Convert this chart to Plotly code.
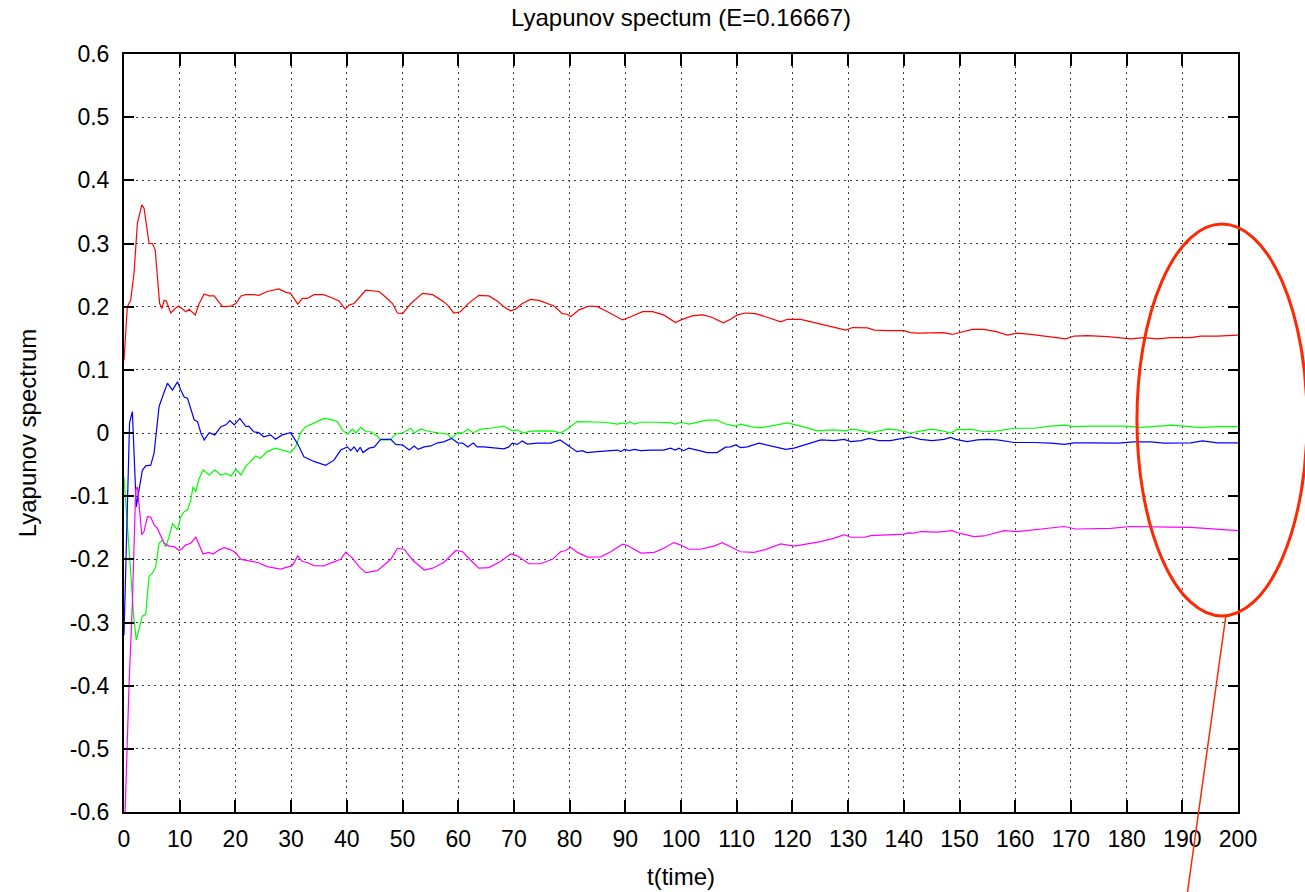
import plotly.graph_objects as go

# ---------------- data ----------------
red_t = [0.0, 0.6, 1.2, 1.8, 2.4, 3.2, 3.6, 4.0, 4.5, 5.1, 5.6, 6.0, 6.4, 6.8, 7.2, 7.6, 8.4, 9.2, 9.8, 10.4,
         11.1, 11.7, 12.8, 13.5, 14.4, 15.3, 16.2, 16.8, 17.7, 19.2, 20.1, 21.0, 21.8, 23.3, 24.2, 25.7, 27.8,
         29.0, 29.9, 31.2, 32.0, 32.9, 34.1, 35.8, 37.1, 38.6, 39.7, 40.4, 41.3, 43.4, 44.9, 45.8, 47.0, 48.2,
         49.1, 50.0, 51.5, 53.6, 55.4, 57.2, 58.1, 59.2, 60.4, 61.7, 63.7, 65.5, 67.0, 68.2, 69.4, 70.3, 71.5,
         73.0, 74.5, 76.0, 77.2, 78.7, 79.6, 80.2, 81.7, 83.5, 85.0, 86.8, 88.6, 89.5, 91.0, 93.1, 94.9, 96.9,
         99.0, 100.0, 102.0, 103.8, 105.3, 106.5, 107.6, 108.9, 110.1, 111.6, 113.4, 115.2, 117.9, 119.1, 121.5,
         124.5, 126.9, 129.6, 130.8, 133.5, 134.7, 137.1, 140.0, 141.2, 142.4, 144.8, 147.2, 148.7, 150.2, 152.3,
         154.4, 156.8, 158.6, 160.4, 162.8, 165.2, 167.3, 169.1, 170.6, 173.0, 176.6, 179.0, 180.7, 183.1, 185.5,
         187.9, 191.5, 193.3, 196.3, 200.0]
red_y = [0.115, 0.20, 0.21, 0.253, 0.332, 0.361, 0.356, 0.332, 0.30, 0.30, 0.29, 0.247, 0.205, 0.197, 0.21, 0.209,
         0.19, 0.197, 0.201, 0.197, 0.192, 0.196, 0.187, 0.205, 0.22, 0.217, 0.217, 0.21, 0.20, 0.201, 0.205, 0.217,
         0.219, 0.219, 0.218, 0.224, 0.228, 0.223, 0.221, 0.204, 0.213, 0.213, 0.219, 0.219, 0.215, 0.209, 0.196,
         0.2025, 0.205, 0.226, 0.225, 0.224, 0.215, 0.205, 0.19, 0.189, 0.205, 0.221, 0.219, 0.209, 0.2025, 0.19,
         0.192, 0.204, 0.218, 0.217, 0.209, 0.20, 0.1935, 0.196, 0.205, 0.2115, 0.21, 0.205, 0.201, 0.189, 0.188,
         0.184, 0.195, 0.201, 0.20, 0.192, 0.184, 0.179, 0.184, 0.192, 0.192, 0.187, 0.175, 0.179, 0.1855, 0.187,
         0.184, 0.179, 0.1745, 0.18, 0.187, 0.19, 0.189, 0.184, 0.176, 0.18, 0.18, 0.1735, 0.169, 0.163, 0.167,
         0.1665, 0.163, 0.162, 0.162, 0.159, 0.158, 0.159, 0.159, 0.156, 0.159, 0.164, 0.164, 0.16, 0.155, 0.158,
         0.156, 0.1535, 0.151, 0.149, 0.1535, 0.154, 0.1525, 0.151, 0.149, 0.151, 0.149, 0.151, 0.151, 0.1535,
         0.1535, 0.155]

green_t = [0.0, 0.9, 1.8, 2.2, 2.8, 3.3, 3.9, 4.5, 5.1, 5.7, 6.3, 6.9, 7.5, 8.1, 8.7, 9.3, 9.6, 10.2, 10.8, 11.4,
           12.0, 12.4, 12.9, 13.4, 14.2, 15.3, 16.3, 17.4, 18.3, 19.2, 20.1, 21.0, 21.9, 22.4, 23.6, 24.5, 25.7,
           27.2, 28.4, 29.9, 30.8, 31.7, 32.6, 33.5, 34.7, 35.9, 37.1, 38.3, 39.2, 40.1, 41.0, 41.6, 42.5, 43.4,
           44.3, 45.5, 46.1, 47.8, 48.8, 50.0, 51.5, 52.1, 53.2, 55.1, 56.9, 58.1, 58.8, 59.9, 60.8, 61.7, 62.7,
           64.0, 65.8, 68.2, 69.7, 70.6, 71.7, 73.0, 75.4, 77.2, 78.3, 79.6, 81.3, 83.2, 86.2, 88.6, 89.5, 90.1,
           90.8, 91.6, 92.8, 95.8, 98.2, 99.0, 100.0, 101.4, 102.9, 104.7, 106.5, 107.7, 108.9, 109.8, 110.7,
           112.5, 114.2, 116.4, 119.1, 121.5, 124.5, 127.5, 129.6, 130.5, 131.7, 134.1, 137.1, 138.8, 141.2,
           143.0, 145.1, 146.9, 148.4, 149.6, 150.8, 152.0, 154.4, 156.8, 159.8, 163.4, 166.4, 168.8, 170.6,
           173.6, 176.6, 179.6, 182.6, 185.5, 188.2, 190.3, 193.3, 196.3, 200.0]
green_y = [-0.07, -0.18, -0.296, -0.3275, -0.306, -0.29, -0.287, -0.227, -0.222, -0.2115, -0.1745, -0.169, -0.18,
           -0.164, -0.143, -0.151, -0.1535, -0.1325, -0.1245, -0.122, -0.106, -0.085, -0.093, -0.074, -0.0585,
           -0.0665, -0.0585, -0.0665, -0.064, -0.068, -0.0575, -0.0665, -0.052, -0.048, -0.0365, -0.04, -0.0295,
           -0.024, -0.027, -0.031, -0.022, 0.0, 0.01, 0.013, 0.018, 0.023, 0.0215, 0.018, 0.005, -0.002, 0.006,
           0.0, 0.009, 0.002, 0.002, -0.005, -0.011, -0.011, -0.0015, 0.0, 0.0075, 0.0, 0.006, 0.002, 0.0, -0.002,
           -0.0085, 0.0005, 0.0, 0.006, 0.0005, 0.006, 0.0075, 0.011, 0.0035, 0.005, 0.0, 0.003, 0.0035, 0.003,
           0.0, 0.006, 0.018, 0.018, 0.017, 0.014, 0.016, 0.014, 0.018, 0.014, 0.017, 0.017, 0.016, 0.014, 0.017,
           0.014, 0.017, 0.0205, 0.0205, 0.015, 0.0125, 0.011, 0.014, 0.01, 0.008, 0.0115, 0.016, 0.011, 0.0035,
           0.005, 0.0035, 0.006, 0.005, 0.0005, 0.006, 0.005, 0.0, 0.003, 0.006, 0.0035, 0.0, 0.006, 0.005, 0.006,
           0.002, 0.0035, 0.0075, 0.0075, 0.011, 0.0125, 0.01, 0.011, 0.0115, 0.011, 0.009, 0.011, 0.0125, 0.011,
           0.0085, 0.01, 0.01]

blue_t = [0.0, 1.0, 1.5, 1.8, 2.2, 2.7, 3.3, 3.9, 4.8, 5.4, 5.8, 6.3, 6.9, 7.8, 8.7, 9.6, 10.2, 10.8, 11.4, 12.0,
          12.6, 13.2, 13.8, 14.4, 15.3, 16.3, 17.4, 18.3, 19.0, 19.8, 20.8, 21.9, 22.4, 23.3, 24.2, 25.1, 26.3,
          27.2, 28.4, 29.9, 31.1, 32.3, 34.1, 36.2, 37.7, 38.9, 39.5, 40.1, 40.7, 41.3, 41.9, 42.4, 42.9, 44.0,
          44.9, 46.1, 47.9, 48.8, 50.0, 51.2, 52.1, 52.8, 53.9, 55.1, 56.3, 57.4, 58.8, 59.9, 60.8, 61.7, 62.7,
          63.4, 64.6, 66.4, 68.2, 69.1, 69.7, 70.6, 71.5, 72.4, 74.2, 76.6, 78.3, 79.6, 81.3, 82.3, 83.1, 85.0,
          86.8, 88.6, 89.2, 89.8, 90.7, 91.6, 92.8, 94.6, 96.9, 98.1, 99.0, 99.6, 100.5, 101.4, 102.9, 104.7,
          106.5, 108.0, 108.9, 109.8, 110.7, 111.9, 114.0, 115.5, 117.3, 118.8, 120.3, 122.7, 125.1, 127.5,
          129.3, 130.5, 132.3, 133.8, 135.5, 137.6, 138.8, 140.0, 141.2, 143.0, 145.1, 147.2, 148.4, 149.3,
          150.2, 151.4, 153.2, 155.0, 156.8, 159.8, 163.4, 166.4, 168.8, 170.6, 173.6, 176.6, 178.4, 181.3,
          184.3, 186.7, 189.1, 191.5, 193.6, 196.3, 200.0]
blue_y = [-0.32, 0.016, 0.034, -0.022, -0.117, -0.09, -0.059, -0.052, -0.051, -0.032, 0.0, 0.042, 0.057, 0.079,
          0.068, 0.081, 0.068, 0.057, 0.055, 0.036, 0.021, 0.018, 0.0, -0.011, 0.0005, -0.003, 0.01, 0.013, 0.0195,
          0.013, 0.023, 0.01, 0.011, 0.002, 0.0005, -0.006, -0.003, -0.01, -0.003, 0.0005, -0.016, -0.0375, -0.045,
          -0.051, -0.043, -0.027, -0.024, -0.022, -0.028, -0.022, -0.0295, -0.0225, -0.031, -0.024, -0.0225,
          -0.01, -0.01, -0.018, -0.019, -0.027, -0.0205, -0.026, -0.022, -0.0205, -0.0155, -0.014, -0.0085,
          -0.0155, -0.016, -0.022, -0.016, -0.022, -0.022, -0.023, -0.025, -0.022, -0.016, -0.018, -0.0125,
          -0.0175, -0.016, -0.016, -0.011, -0.019, -0.0295, -0.028, -0.031, -0.0295, -0.028, -0.027, -0.0295,
          -0.026, -0.028, -0.026, -0.028, -0.027, -0.027, -0.024, -0.027, -0.024, -0.028, -0.024, -0.027, -0.031,
          -0.031, -0.0225, -0.022, -0.019, -0.023, -0.022, -0.016, -0.019, -0.022, -0.026, -0.024, -0.0175,
          -0.011, -0.012, -0.01, -0.0135, -0.012, -0.0085, -0.012, -0.012, -0.01, -0.007, -0.006, -0.01, -0.012,
          -0.01, -0.007, -0.01, -0.011, -0.0135, -0.011, -0.01, -0.011, -0.015, -0.015, -0.016, -0.018, -0.0155,
          -0.0155, -0.0155, -0.016, -0.014, -0.014, -0.016, -0.016, -0.0155, -0.0125, -0.0155, -0.0155]

magenta_t = [0.2, 0.9, 1.5, 2.1, 2.4, 2.8, 3.2, 3.6, 4.2, 4.8, 5.4, 6.0, 6.6, 7.2, 8.1, 9.0, 9.9, 10.5, 11.1,
             12.0, 12.9, 13.5, 14.2, 15.2, 16.0, 17.1, 18.0, 19.2, 20.1, 21.0, 21.7, 24.0, 25.7, 28.1, 30.2,
             31.2, 32.0, 32.9, 34.1, 35.9, 37.1, 38.9, 39.8, 41.0, 42.2, 43.4, 45.5, 47.0, 47.9, 49.1, 50.3,
             51.8, 53.9, 55.4, 57.4, 59.6, 60.8, 62.2, 63.7, 65.5, 67.6, 69.4, 70.6, 72.7, 74.8, 76.9, 78.4,
             79.3, 80.2, 81.4, 83.2, 85.6, 87.4, 89.5, 90.4, 92.8, 95.2, 96.9, 98.7, 99.9, 101.4, 103.5, 105.9,
             107.4, 108.6, 110.7, 113.1, 115.0, 117.9, 120.3, 122.7, 125.1, 127.5, 129.3, 130.5, 132.9, 134.1,
             137.6, 140.0, 140.9, 141.8, 143.0, 146.0, 148.7, 149.6, 151.1, 152.6, 154.4, 156.2, 158.0, 160.4,
             162.8, 165.2, 167.0, 168.8, 170.9, 173.6, 177.2, 180.7, 184.3, 187.9, 191.5, 196.3, 200.0]
magenta_y = [-0.6, -0.401, -0.27, -0.09, -0.085, -0.122, -0.161, -0.156, -0.1325, -0.133, -0.1455, -0.151, -0.164,
             -0.1745, -0.179, -0.18, -0.186, -0.1825, -0.177, -0.1745, -0.165, -0.177, -0.1915, -0.189, -0.1915,
             -0.185, -0.1815, -0.185, -0.19, -0.2, -0.201, -0.205, -0.2115, -0.2155, -0.21, -0.1945, -0.2035,
             -0.205, -0.21, -0.2105, -0.206, -0.2, -0.1885, -0.198, -0.2115, -0.221, -0.218, -0.206, -0.2,
             -0.1825, -0.184, -0.201, -0.217, -0.214, -0.205, -0.186, -0.188, -0.201, -0.214, -0.213, -0.2035,
             -0.1915, -0.1945, -0.207, -0.207, -0.2, -0.188, -0.186, -0.181, -0.189, -0.1965, -0.196, -0.188,
             -0.176, -0.178, -0.19, -0.189, -0.1825, -0.1735, -0.177, -0.184, -0.184, -0.179, -0.1735, -0.179,
             -0.188, -0.189, -0.185, -0.1755, -0.179, -0.1755, -0.172, -0.1665, -0.161, -0.165, -0.165, -0.1625,
             -0.161, -0.16, -0.158, -0.1585, -0.156, -0.157, -0.1545, -0.158, -0.161, -0.164, -0.163, -0.1585,
             -0.1545, -0.156, -0.1535, -0.151, -0.149, -0.148, -0.152, -0.152, -0.151, -0.148, -0.149, -0.149,
             -0.1495, -0.152, -0.1545]

x_ticks = list(range(0, 201, 10))
x_tick_text = [str(v) for v in x_ticks]
y_ticks = [-0.6, -0.5, -0.4, -0.3, -0.2, -0.1, 0.0, 0.1, 0.2, 0.3, 0.4, 0.5, 0.6]
y_tick_text = ["-0.6", "-0.5", "-0.4", "-0.3", "-0.2", "-0.1", "0", "0.1", "0.2", "0.3", "0.4", "0.5", "0.6"]

FONT = "Liberation Sans, Arial, Helvetica, sans-serif"

fig = go.Figure()
series = [
    (red_t, red_y, "#ff0000"),
    (green_t, green_y, "#00ff00"),
    (blue_t, blue_y, "#0000ff"),
    (magenta_t, magenta_y, "#ff00ff"),
]
for tt, yy, col in series:
    fig.add_trace(go.Scatter(x=tt, y=yy, mode="lines", line=dict(color=col, width=1.2),
                             showlegend=False, hoverinfo="skip"))

axis_common = dict(
    showline=True, linecolor="black", linewidth=2, mirror="ticks",
    ticks="inside", tickcolor="black", tickwidth=2,
    showgrid=True, gridcolor="rgba(40,40,40,0.9)", griddash="2px,4px", gridwidth=1.2,
    zeroline=False, automargin=False,
    tickfont=dict(family=FONT, size=23, color="black"),
)

fig.update_xaxes(range=[0, 200], tickmode="array", tickvals=x_ticks, ticktext=x_tick_text,
                 ticklen=12, ticklabelstandoff=5,
                 title=dict(text="t(time)", font=dict(family=FONT, size=24, color="black"), standoff=18),
                 **axis_common)
fig.update_yaxes(range=[-0.6, 0.6], tickmode="array", tickvals=y_ticks, ticktext=y_tick_text,
                 ticklen=10, ticklabelstandoff=8,
                 title=dict(text="Lyapunov spectrum", font=dict(family=FONT, size=24, color="black"), standoff=26),
                 **axis_common)

# hand-drawn red ellipse + pointer line (screenshot annotation), paper coordinates
fig.add_shape(type="circle", xref="paper", yref="paper",
              x0=0.9093, x1=1.062, y0=0.2586, y1=0.7757,
              line=dict(color="rgb(255,40,0)", width=3), layer="above")
fig.add_shape(type="line", xref="paper", yref="paper",
              x0=0.9892, y0=0.2599, x1=0.9533, y1=-0.12,
              line=dict(color="rgb(255,40,0)", width=1.5), layer="above")

fig.update_layout(
    width=1305, height=892,
    margin=dict(l=124, r=67, t=54, b=80, autoexpand=False),
    paper_bgcolor="white", plot_bgcolor="white",
    title=dict(text="Lyapunov spectum (E=0.16667)", x=0.5, xref="paper", y=0.98, yanchor="middle",
               font=dict(family=FONT, size=24, color="black")),
    font=dict(family=FONT, color="black"),
)

fig.write_html("out.html")
